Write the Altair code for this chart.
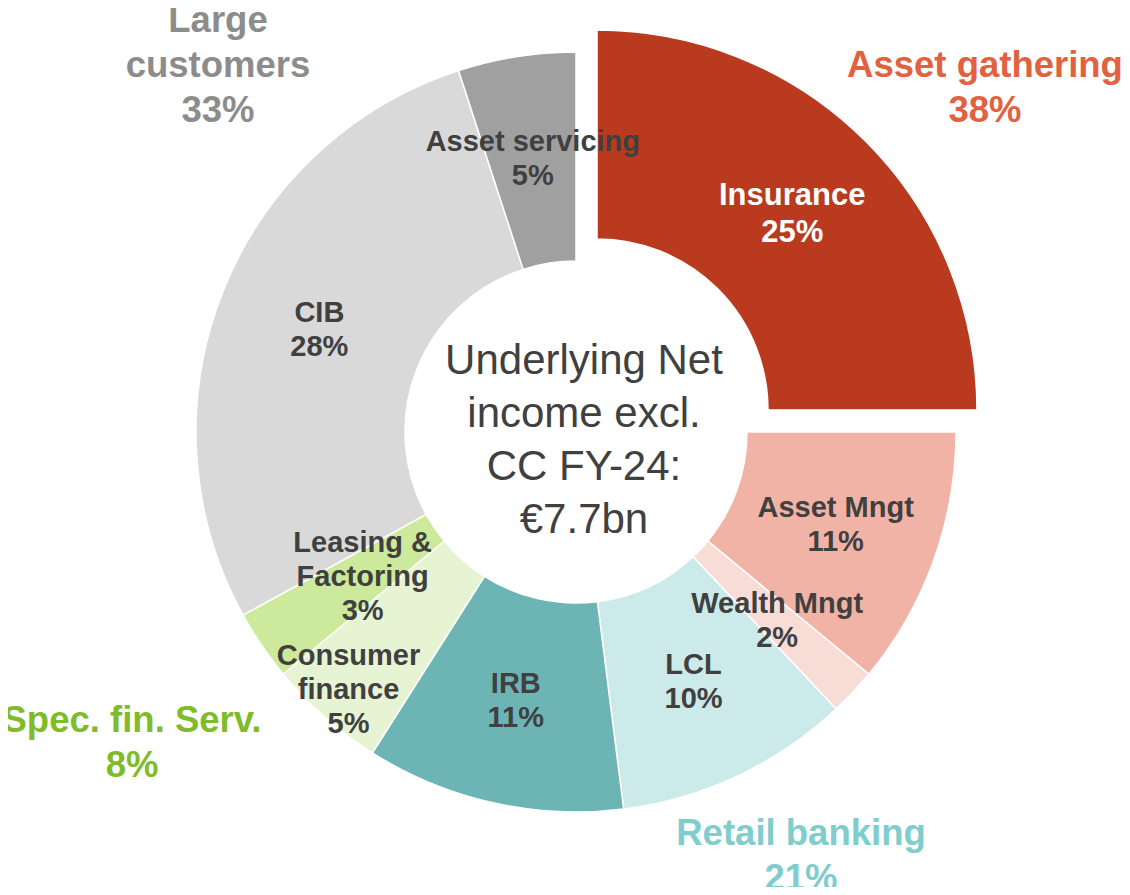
import math
import altair as alt
import pandas as pd

# ---- data ----
segments = ["Insurance", "Asset Mngt", "Wealth Mngt", "LCL", "IRB",
            "Consumer finance", "Leasing & Factoring", "CIB", "Asset servicing"]
segment_labels = ["Insurance", "Asset Mngt", "Wealth Mngt", "LCL", "IRB",
                  "Consumer\nfinance", "Leasing &\nFactoring", "CIB", "Asset servicing"]
shares = [25, 11, 2, 10, 11, 5, 3, 28, 5]

groups = ["Asset gathering", "Retail banking", "Spec. fin. Serv.", "Large\ncustomers"]
group_shares = [38, 21, 8, 33]

center_text = "Underlying Net\nincome excl.\nCC FY-24:\n€7.7bn"

# ---- styles / layout ----
seg_colors = ["#B93A1E", "#F0B3A6", "#F8DDD7", "#CCEAEA", "#6DB4B4",
              "#E6F4D3", "#CDE99B", "#D9D9D9", "#A0A0A0"]
group_colors = ["#E2613E", "#7FCDCD", "#80BC2A", "#8C8C8C"]
group_pos = [(977, 58), (793, 826), (124, 713), (210, 13)]   # first-line anchors
CX, CY = 568, 424          # donut centre (chart coords)
EX, EY = 589, 402          # exploded slice centre
R_OUT, R_IN = 380, 171
label_radius = {"Consumer finance": 344, "Leasing & Factoring": 258}
FONT = "Liberation Sans"
LH = 34                    # label line height

# ---- tables ----
df = pd.DataFrame({"name": segments, "value": shares})
df["end"] = df["value"].cumsum()
df["start"] = df["end"] - df["value"]
df["mid"] = (df["start"] + df["end"]) / 2
df["label"] = [f"{l}\n{v}%" for l, v in zip(segment_labels, shares)]
df["nlines"] = [l.count("\n") + 2 for l in segment_labels]
df["lr"] = [label_radius.get(n, 276) for n in segments]

gdf = pd.DataFrame({"group": groups, "share": group_shares})
gdf["glabel"] = [f"{g}\n{s}%" for g, s in zip(groups, group_shares)]

theta_scale = alt.Scale(domain=[0, 100], range=[0, 2 * math.pi])
radius_scale = alt.Scale(type="linear", domain=[0, 1000], range=[0, 1000])
color_scale = alt.Scale(domain=segments, range=seg_colors)

base = alt.Chart(df)

arcs = base.transform_filter(alt.datum.name != "Insurance").mark_arc(
    outerRadius=R_OUT, innerRadius=R_IN, stroke="white", strokeWidth=1.5
).encode(
    theta=alt.Theta("start:Q", scale=theta_scale, stack=False),
    theta2="end:Q",
    color=alt.Color("name:N", scale=color_scale, legend=None),
    x=alt.value(CX), y=alt.value(CY),
)

exploded = base.transform_filter(alt.datum.name == "Insurance").mark_arc(
    outerRadius=R_OUT, innerRadius=R_IN, stroke="white", strokeWidth=1.5
).encode(
    theta=alt.Theta("start:Q", scale=theta_scale, stack=False),
    theta2="end:Q",
    color=alt.Color("name:N", scale=color_scale, legend=None),
    x=alt.value(EX), y=alt.value(EY),
)

label_layers = []
for n in (2, 3):
    label_layers.append(
        base.transform_filter(
            (alt.datum.name != "Insurance") & (alt.datum.nlines == n)
        ).mark_text(
            font=FONT, fontSize=29, fontWeight="bold", color="#404040",
            lineBreak="\n", lineHeight=LH, align="center", baseline="middle",
            dy=-(n - 1) * LH / 2
        ).encode(
            theta=alt.Theta("mid:Q", scale=theta_scale, stack=False),
            radius=alt.Radius("lr:Q", scale=radius_scale),
            text="label:N",
            x=alt.value(CX), y=alt.value(CY),
        )
    )

ins_label = base.transform_filter(alt.datum.name == "Insurance").mark_text(
    font=FONT, fontSize=31, fontWeight="bold", color="white",
    lineBreak="\n", lineHeight=37, align="center", baseline="middle", dy=-18.5
).encode(
    theta=alt.Theta("mid:Q", scale=theta_scale, stack=False),
    radius=alt.Radius("lr:Q", scale=radius_scale),
    text="label:N",
    x=alt.value(EX), y=alt.value(EY),
)

center = alt.Chart(pd.DataFrame({"t": [center_text]})).mark_text(
    font=FONT, fontSize=42, color="#404040", lineBreak="\n", lineHeight=53,
    align="center", baseline="middle"
).encode(text="t:N", x=alt.value(576), y=alt.value(353))

group_layers = []
for g, col, (px, py) in zip(groups, group_colors, group_pos):
    group_layers.append(
        alt.Chart(gdf).transform_filter(alt.datum.group == g).mark_text(
            font=FONT, fontSize=36.5, fontWeight="bold", lineBreak="\n",
            lineHeight=45, align="center", baseline="middle"
        ).encode(text="glabel:N", x=alt.value(px), y=alt.value(py),
                 color=alt.value(col))
    )

chart = alt.layer(arcs, exploded, *label_layers, ins_label, center, *group_layers).properties(
    width=1114, height=879, autosize="none", padding=0
).configure_view(stroke="transparent")

chart.save("out.html", embed_options={"renderer": "svg", "actions": False})
